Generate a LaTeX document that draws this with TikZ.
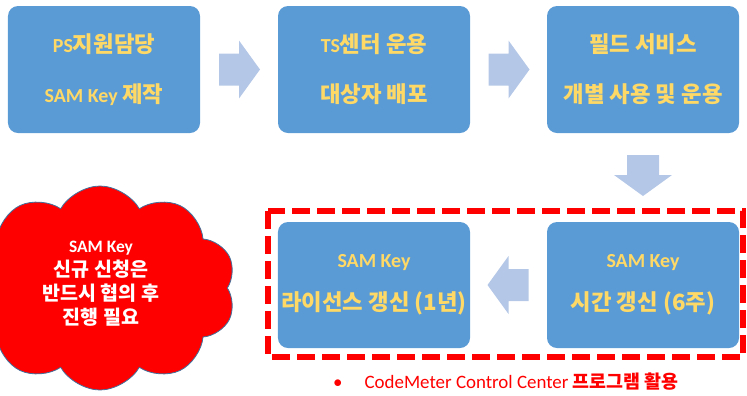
\documentclass[tikz,border=0pt]{standalone}
\usepackage{fontspec}
\setmainfont{Carlito}
\newfontfamily\krfont{Noto Sans CJK KR}[Scale=1.12]
\usetikzlibrary{shapes.symbols,calc}
\definecolor{boxblue}{HTML}{5B9BD5}
\definecolor{boxtext}{HTML}{FFD966}
\definecolor{arrowblue}{HTML}{B4C7E7}
\definecolor{cloudline}{HTML}{41719C}
\begin{document}
\begin{tikzpicture}[x=1bp,y=-1bp,
		stepbox/.style={fill=boxblue,rounded corners=10bp,minimum width=192bp,minimum height=127bp,
			text=boxtext,align=center,font=\bfseries\fontsize{20}{50}\selectfont},
		arrowfill/.style={fill=arrowblue},
		noteCloud/.style={cloud,cloud puffs=10,cloud puff arc=120,aspect=1.25,fill=red,draw=cloudline,
			line width=0.8bp,minimum width=272bp,minimum height=204bp,inner sep=0pt},
		noteText/.style={text=white,align=center,font=\bfseries\fontsize{17.5}{24}\selectfont},
		renewFrame/.style={draw=red,line width=6bp,dash pattern=on 18bp off 7bp}]
			\newcommand{\kr}[1]{{\krfont #1}}
			\newcommand{\flowarrow}[2]{
				\fill[arrowfill,shift={(#1)},rotate=#2] (-20,-16) -- (0,-16) -- (0,-29) -- (21,0) -- (0,29) -- (0,16) -- (-20,16) -- cycle;
			}
			\useasboundingbox (0,0) rectangle (747,395);
			%Top row
			\coordinate (c1) at (104,69.5);
			\coordinate (c2) at (374,69.5);
			\coordinate (c3) at (643,69.5);
			\node [stepbox] (ps) at (c1) {PS\kr{지원담당}\\SAM Key \kr{제작}};
			\node [stepbox] (ts) at (c2) {TS\kr{센터 운용}\\\kr{대상자 배포}};
			\node [stepbox] (field) at (c3) {\kr{필드 서비스}\\\kr{개별 사용 및 운용}};
			%Bottom row
			\coordinate (c4) at (374,285);
			\coordinate (c5) at (643,285);
			\node [stepbox,minimum height=126bp,font=\bfseries\fontsize{20}{43}\selectfont] (license) at (c4) {SAM Key\\\kr{라이선스 갱신 (1년)}};
			\node [stepbox,minimum height=126bp,font=\bfseries\fontsize{20}{43}\selectfont] (time) at (c5) {SAM Key\\\kr{시간 갱신 (6주)}};
			%Block arrows between the boxes
			\coordinate (a1) at ($(ps.east)!0.5!(ts.west)$);
			\coordinate (a2) at ($(ts.east)!0.5!(field.west)$);
			\coordinate (a3) at (643,175);
			\coordinate (a4) at ($(license.east)!0.5!(time.west)$);
			\flowarrow{a1}{0}
			\flowarrow{a2}{0}
			\flowarrow{a3}{-90}
			\flowarrow{a4}{180}
			%Dashed frame round the renewal steps
			\draw [renewFrame] (268,211) rectangle (743,357);
			%Note cloud
			\node [noteCloud] (note) at (100,288) {};
			\node [noteText] (noteTxt) at (101,284) {SAM Key\\\kr{신규 신청은}\\\kr{반드시 협의 후}\\\kr{진행 필요}};
			%Caption
			\node [anchor=west,text=red,font=\fontsize{19}{20}\selectfont,inner sep=0pt] (tool) at (333,382)
				{\textbullet\hspace{22bp}CodeMeter Control Center \kr{\bfseries\fontsize{16.5}{20}\selectfont 프로그램 활용}};
\end{tikzpicture}
\end{document}
